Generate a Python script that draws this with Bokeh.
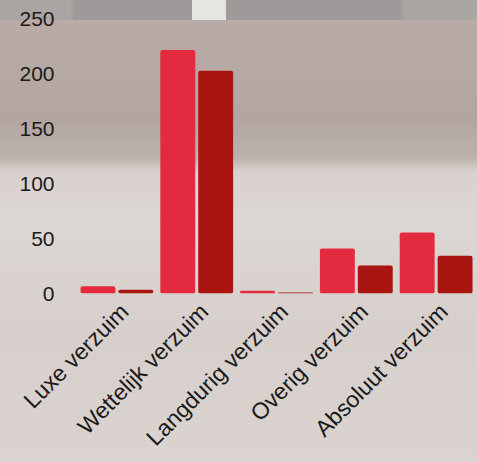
import math
from bokeh.plotting import figure
from bokeh.models import Range1d, FixedTicker
from bokeh.embed import file_html
from bokeh.resources import INLINE

categories = ["Luxe verzuim", "Wettelijk verzuim", "Langdurig verzuim", "Overig verzuim", "Absoluut verzuim"]
series_a = [6.5, 222, 2.5, 41, 55.5]
series_b = [3.5, 203, 1, 25.5, 34.5]
y_ticks = [0, 50, 100, 150, 200, 250]

idx = list(range(len(categories)))
centers = [i + 0.5 for i in idx]
label_pos = [c + 0.075 for c in centers]

p = figure(x_range=Range1d(0, len(categories)), y_range=Range1d(0, 267),
           width=477, height=462, output_backend="svg", toolbar_location=None,
           min_border_left=78, min_border_right=0, min_border_top=0, min_border_bottom=168)

p.background_fill_color = None
p.border_fill_color = None
p.outline_line_color = None

# photo-like backdrop (decoration only, via CSS)
p.styles = {
    "background": (
        "linear-gradient(to right, rgba(0,0,0,0) 192px, #e7e5e1 192px, #e7e5e1 226px, rgba(0,0,0,0) 226px) "
        "top left / 100% 20px no-repeat, "
        "linear-gradient(to right, #a9a5a3 0px, #a9a5a3 70px, #9d9a99 75px, #9d9a99 400px, #aaa6a4 405px) "
        "top left / 100% 20px no-repeat, "
        "linear-gradient(to bottom, #b9aba6 20px, #b3a6a1 120px, "
        "#bdb2ae 158px, #d8d1cd 172px, #ddd7d3 220px, #d6cfcb 330px, #dad3cf 462px)"
    )
}

xa = [c - 0.256 for c in centers]
xb = [c + 0.219 for c in centers]
p.vbar(x=xa, top=series_a, width=0.4375, bottom=0,
       fill_color="#e42a3e", line_color=None, border_radius=2)
p.vbar(x=xb, top=series_b, width=0.4375, bottom=0,
       fill_color="#a91511", line_color=None, border_radius=2)

p.xgrid.grid_line_color = None
p.ygrid.grid_line_color = None

p.yaxis.ticker = y_ticks
p.yaxis.axis_line_color = None
p.yaxis.major_tick_line_color = None
p.yaxis.minor_tick_line_color = None
p.yaxis.major_label_standoff = 18
p.yaxis.major_label_text_font = "Liberation Sans"
p.yaxis.major_label_text_font_size = "21px"
p.yaxis.major_label_text_color = "#1a1a1a"

p.xaxis.ticker = FixedTicker(ticks=label_pos, minor_ticks=[])
p.xaxis.major_label_overrides = {pos: name for pos, name in zip(label_pos, categories)}
p.xaxis.axis_line_color = None
p.xaxis.major_tick_line_color = None
p.xaxis.minor_tick_line_color = None
p.xaxis.major_label_orientation = math.pi / 4
p.xaxis.major_label_standoff = 8
p.xaxis.major_label_text_font = "Liberation Sans"
p.xaxis.major_label_text_font_size = "23px"
p.xaxis.major_label_text_color = "#1a1a1a"

open("out.html", "w").write(file_html(p, INLINE))
